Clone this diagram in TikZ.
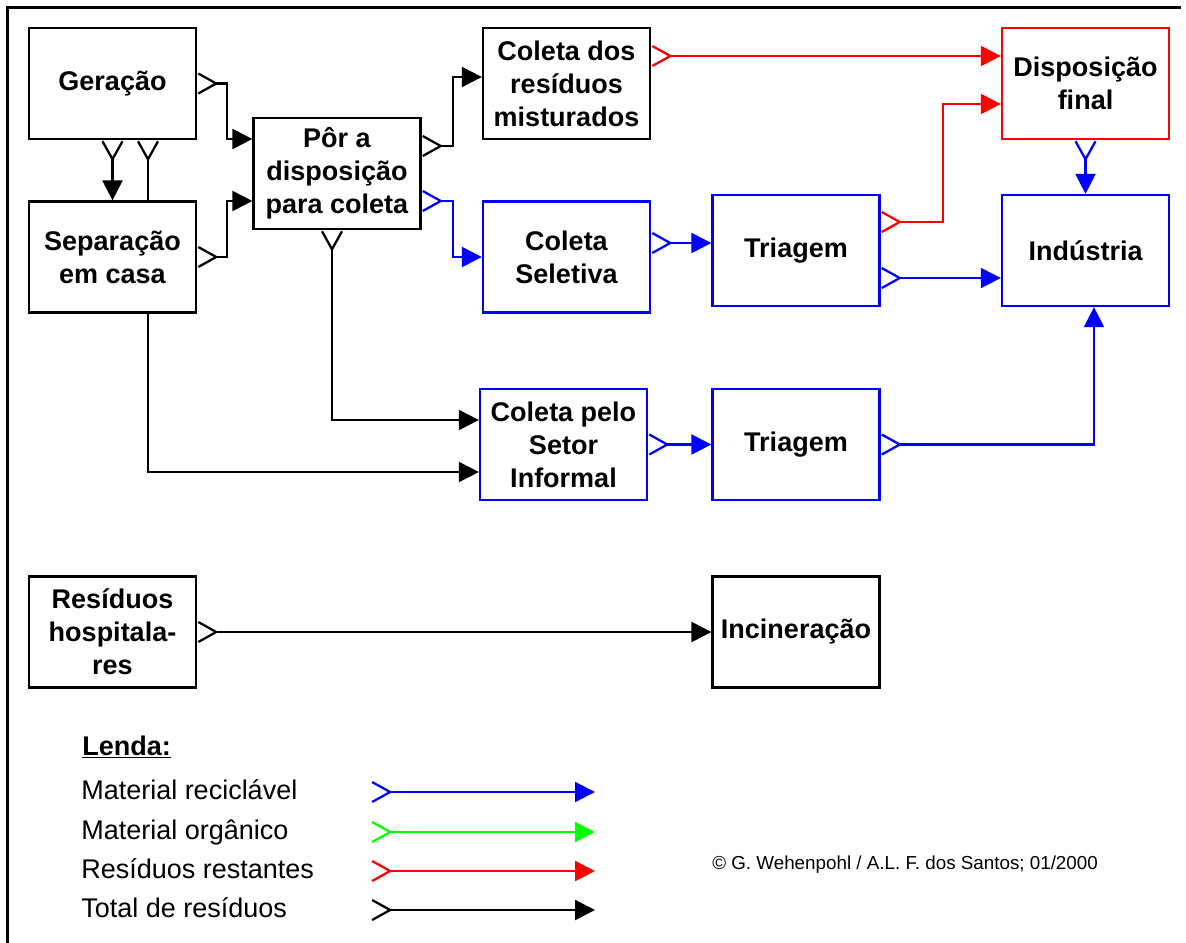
\documentclass[tikz,border=0pt]{standalone}
\usepackage{fontspec}
\setmainfont{Liberation Sans}
\usetikzlibrary{arrows.meta,calc,backgrounds}

\begin{document}
\begin{tikzpicture}[x=0.75pt,y=0.75pt,yscale=-1,xscale=1,
  caixa/.style={draw, line width=1.7pt, fill=white, minimum width=125.25pt, minimum height=83.25pt,
    inner sep=0pt, align=center, font=\fontsize{20.25}{24.75}\selectfont\bfseries},
  fluxo/.style={line width=1.7pt, {Straight Barb[reversed,length=13.5pt,width=15pt]}-{Triangle[length=15pt,width=15pt]}},
  legenda/.style={anchor=base west, inner sep=0pt, font=\fontsize{20.25}{24}\selectfont},
]
\useasboundingbox (0,0) rectangle (1186,943);

%Frame
\draw[line width=2.25pt] (7,943) -- (7,7) -- (1181,7);

%Boxes
\node[caixa] (ger) at (112.5,83.5) {Geração};
\node[caixa] (sep) at (112.5,257) {Separação\\em casa};
\node[caixa] (por) at (337,173.5) {Pôr a\\disposição\\para coleta};
\node[caixa] (mix) at (566.5,83.5) {Coleta dos\\resíduos\\misturados};
\node[caixa,draw=red] (disp) at (1085.5,83.5) {Disposição\\final};
\node[caixa,draw=blue] (sel) at (566.5,257) {Coleta\\Seletiva};
\node[caixa,draw=blue] (tri1) at (796,250.5) {Triagem};
\node[caixa,draw=blue] (ind) at (1085.5,250.5) {Indústria};
\node[caixa,draw=blue] (inf) at (563.5,444.5) {Coleta pelo\\Setor\\Informal};
\node[caixa,draw=blue] (tri2) at (796,444.5) {Triagem};
\node[caixa] (hos) at (112.5,632) {Resíduos\\hospitala-\\res};
\node[caixa] (inc) at (796,632) {Incineração};

%Connectors
\begin{scope}[on background layer]
% Geração -> Pôr a disposição
\draw[fluxo] (ger.east) -- ++(30,0) |- ($(por.west)+(0,-34.5)$);
% Separação -> Pôr a disposição
\draw[fluxo] (sep.east) -- ++(30,0) |- ($(por.west)+(0,27.5)$);
% Geração -> Separação
\draw[fluxo] (ger.south) -- (sep.north);
% Geração -> Coleta pelo Setor Informal (behind Separação)
\draw[fluxo] ($(ger.south)+(35.5,0)$) |- ($(inf.west)+(0,27.5)$);
% Pôr a disposição -> Coleta pelo Setor Informal
\draw[fluxo] ($(por.south)+(-5,0)$) |- ($(inf.west)+(0,-24.5)$);
% Pôr a disposição -> Coleta dos resíduos misturados
\draw[fluxo] ($(por.east)+(0,-27.5)$) -- ++(31,0) |- ($(mix.west)+(0,-6.5)$);
% Pôr a disposição -> Coleta Seletiva
\draw[fluxo,blue] ($(por.east)+(0,27.5)$) -- ++(31,0) |- (sel.west);
% Coleta dos resíduos misturados -> Disposição final
\draw[fluxo,red] ($(mix.east)+(0,-27.5)$) -- ($(disp.west)+(0,-27.5)$);
% Coleta Seletiva -> Triagem
\draw[fluxo,blue] ($(sel.east)+(0,-14)$) -- ($(tri1.west)+(0,-7.5)$);
% Triagem -> Disposição final
\draw[fluxo,red] ($(tri1.east)+(0,-28.5)$) -- ++(62,0) |- ($(disp.west)+(0,20.5)$);
% Triagem -> Indústria
\draw[fluxo,blue] ($(tri1.east)+(0,27.5)$) -- ($(ind.west)+(0,27.5)$);
% Disposição final -> Indústria
\draw[fluxo,blue] (disp.south) -- (ind.north);
% Coleta pelo Setor Informal -> Triagem
\draw[fluxo,blue] (inf.east) -- (tri2.west);
% Triagem -> Indústria
\draw[fluxo,blue] (tri2.east) -| ($(ind.south)+(8.5,0)$);
% Resíduos hospitalares -> Incineração
\draw[fluxo] (hos.east) -- (inc.west);
\end{scope}

%Legend
\node[legenda,font=\fontsize{20.25}{24}\selectfont\bfseries] (lenda) at (82,755) {\underline{Lenda:}};
\node[legenda] (lrec) at (81,799) {Material reciclável};
\node[legenda] (lorg) at (81,839) {Material orgânico};
\node[legenda] (lres) at (81,878) {Resíduos restantes};
\node[legenda] (ltot) at (81,917) {Total de resíduos};
\coordinate (rec0) at (371,792); \coordinate (rec1) at (595,792);
\coordinate (org0) at (371,832); \coordinate (org1) at (595,832);
\coordinate (res0) at (371,871); \coordinate (res1) at (595,871);
\coordinate (tot0) at (371,910); \coordinate (tot1) at (595,910);
\draw[fluxo,blue] (rec0) -- (rec1);
\draw[fluxo,green] (org0) -- (org1);
\draw[fluxo,red] (res0) -- (res1);
\draw[fluxo] (tot0) -- (tot1);

% Text Node
\node[anchor=base west, inner sep=0pt, font=\fontsize{14.1}{17}\selectfont] (copy) at (712,869) {© G. Wehenpohl / A.L. F. dos Santos; 01/2000};

\end{tikzpicture}
\end{document}
